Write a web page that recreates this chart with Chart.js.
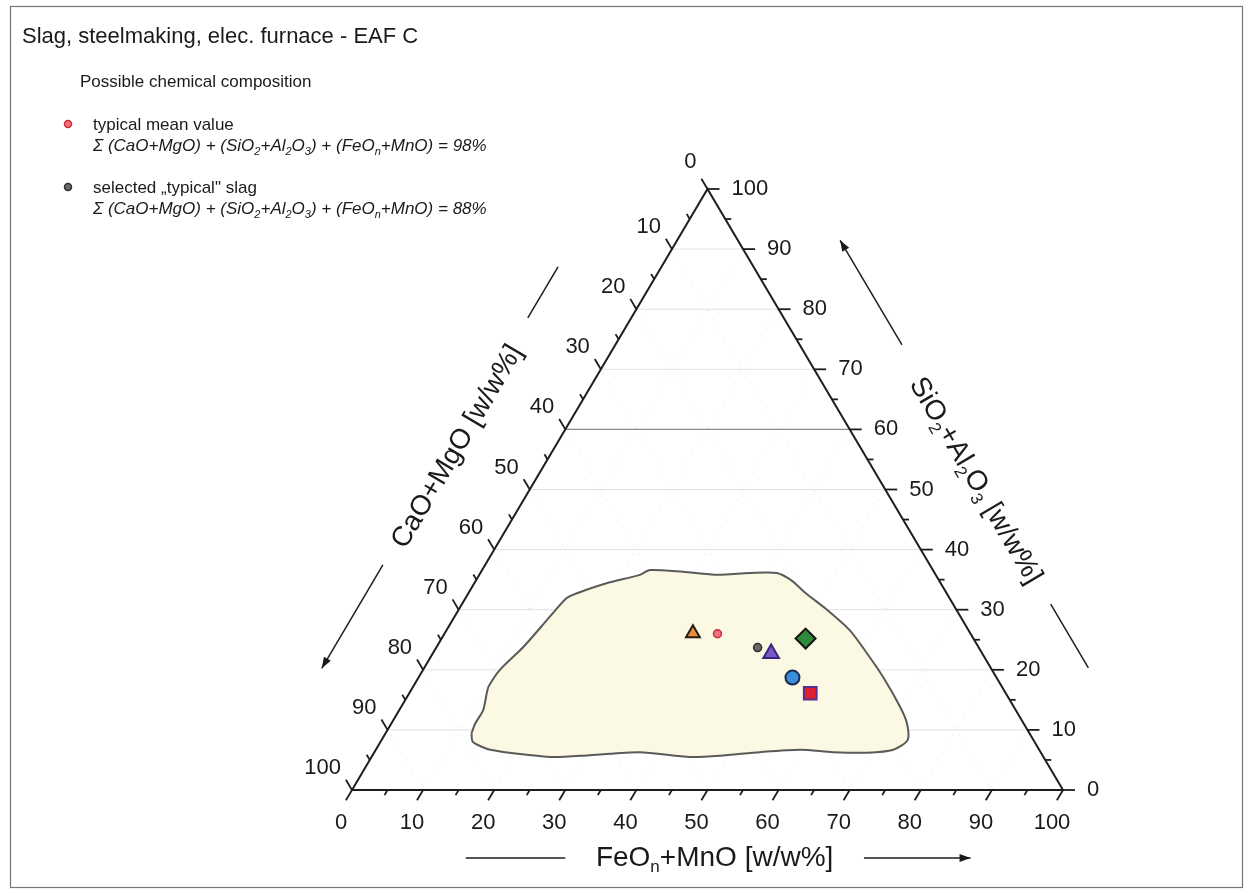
<!DOCTYPE html>
<html>
<head>
<meta charset="utf-8">
<script src="https://cdn.jsdelivr.net/npm/chart.js@4.4.1/dist/chart.umd.min.js"></script>
<style>
html, body { margin: 0; padding: 0; background: #fff; }
#wrap { width: 1249px; height: 893px; }
</style>
</head>
<body>
<div id="wrap"><canvas id="myChart" width="1249" height="893"></canvas></div>
<script>
// ternary values: FeOn+MnO and SiO2+Al2O3 (CaO+MgO is the rest to 100)
const regionFeO = [12.1, 11.8, 11.8, 10.9, 10.6, 10.8, 12.2, 13.4, 14.2, 15.2, 18.6, 22.6, 23.6, 28.4, 33.5, 37.9, 41.7, 44.5, 47.2, 51.8,
    56.7, 61.0, 65.3, 70.2, 72.5, 74.0, 72.8, 69.4, 64.5, 59.7, 54.2, 48.9, 44.8, 37.3, 30.6, 25.1, 16.1, 13.0];
const regionSiO2 = [9.4, 11.1, 13.3, 16.1, 17.2, 20.0, 23.8, 28.8, 31.9, 32.7, 34.4, 35.8, 36.6, 36.3, 35.8, 36.1, 36.1, 34.8, 32.9, 30.0,
    26.6, 22.8, 18.8, 13.8, 11.1, 8.3, 6.7, 6.2, 6.3, 6.7, 6.3, 5.7, 5.5, 6.3, 5.8, 5.5, 6.7, 8.0];

const markerNames = ["orange", "mean", "typical", "purple", "green", "blue", "square"];
const markerFeO = [34.9, 38.4, 45.2, 47.6, 51.2, 52.6, 56.4];
const markerSiO2 = [26.1, 26.0, 23.7, 22.7, 25.2, 18.7, 16.1];

const tickValues = [0, 10, 20, 30, 40, 50, 60, 70, 80, 90, 100];
const minorTicks = [5, 15, 25, 35, 45, 55, 65, 75, 85, 95];
const gridValues = [10, 20, 30, 40, 50, 60, 70, 80, 90];

const markerStyles = [
    {pointStyle: 'triangle', radius: 8, bg: '#e8913c', border: '#2a1a10', bw: 2},
    {pointStyle: 'circle', radius: 4, bg: '#f2707c', border: '#d0283c', bw: 1.5},
    {pointStyle: 'circle', radius: 4, bg: '#6a6a62', border: '#2e2e2e', bw: 1.5},
    {pointStyle: 'triangle', radius: 9, bg: '#7a5cc8', border: '#3a2380', bw: 2},
    {pointStyle: 'rectRot', radius: 10, bg: '#2f8a3c', border: '#141414', bw: 2},
    {pointStyle: 'circle', radius: 7, bg: '#3b8fd9', border: '#182a55', bw: 2},
    {pointStyle: 'rect', radius: 9, bg: '#e0202e', border: '#5b2d8c', bw: 2}
];

const FONT = '"Liberation Sans", Arial, sans-serif';

function toXY(feo, sio2) {
    return {x: feo + sio2 / 2, y: sio2};
}

function pix(chart, feo, sio2) {
    const p = toXY(feo, sio2);
    return {x: chart.scales.x.getPixelForValue(p.x), y: chart.scales.y.getPixelForValue(p.y)};
}

// draws text with subscript parts: [[text, isSub], ...]
function richWidth(ctx, parts, size, style) {
    let w = 0;
    for (const p of parts) {
        ctx.font = style + ' ' + (p[1] ? Math.round(size * 0.62) : size) + 'px ' + FONT;
        w += ctx.measureText(p[0]).width;
    }
    return w;
}
function drawRich(ctx, parts, x, y, size, style, align) {
    const w = richWidth(ctx, parts, size, style);
    let cx = x;
    if (align === 'center') cx = x - w / 2;
    if (align === 'right') cx = x - w;
    ctx.textAlign = 'left';
    ctx.textBaseline = 'middle';
    for (const p of parts) {
        const s = p[1] ? Math.round(size * 0.62) : size;
        ctx.font = style + ' ' + s + 'px ' + FONT;
        ctx.fillText(p[0], cx, p[1] ? y + size * 0.32 : y);
        cx += ctx.measureText(p[0]).width;
    }
}

function arrowLine(ctx, a, b, head) {
    ctx.beginPath();
    ctx.moveTo(a.x, a.y);
    ctx.lineTo(b.x, b.y);
    ctx.stroke();
    if (head) {
        const ang = Math.atan2(b.y - a.y, b.x - a.x);
        ctx.beginPath();
        ctx.moveTo(b.x, b.y);
        ctx.lineTo(b.x - 11 * Math.cos(ang) + 4 * Math.sin(ang), b.y - 11 * Math.sin(ang) - 4 * Math.cos(ang));
        ctx.lineTo(b.x - 11 * Math.cos(ang) - 4 * Math.sin(ang), b.y - 11 * Math.sin(ang) + 4 * Math.cos(ang));
        ctx.closePath();
        ctx.fill();
    }
}

const formula98 = [['Σ (CaO+MgO) + (SiO', 0], ['2', 1], ['+Al', 0], ['2', 1], ['O', 0], ['3', 1], [') + (FeO', 0], ['n', 1], ['+MnO) = 98%', 0]];
const formula88 = [['Σ (CaO+MgO) + (SiO', 0], ['2', 1], ['+Al', 0], ['2', 1], ['O', 0], ['3', 1], [') + (FeO', 0], ['n', 1], ['+MnO) = 88%', 0]];

const ternaryDecor = {
    id: 'ternaryDecor',
    beforeDatasetsDraw(chart) {
        const ctx = chart.ctx;
        ctx.save();
        // outer frame
        ctx.strokeStyle = '#777';
        ctx.lineWidth = 1.2;
        ctx.strokeRect(10.5, 6.5, 1232, 881);

        // faint grid
        for (const g of gridValues) {
            const a = pix(chart, 0, g), b = pix(chart, 100 - g, g);
            ctx.strokeStyle = g === 60 ? '#8a8a8a' : '#dedede';
            ctx.lineWidth = g === 60 ? 1.1 : 0.9;
            ctx.setLineDash([]);
            ctx.beginPath(); ctx.moveTo(a.x, a.y); ctx.lineTo(b.x, b.y); ctx.stroke();

            ctx.strokeStyle = 'rgba(0,0,0,0.10)';
            ctx.lineWidth = 1;
            ctx.setLineDash([1.5, 9]);
            let c = pix(chart, g, 0), d = pix(chart, g, 100 - g);
            ctx.beginPath(); ctx.moveTo(c.x, c.y); ctx.lineTo(d.x, d.y); ctx.stroke();
            c = pix(chart, 100 - g, 0); d = pix(chart, 0, 100 - g);
            ctx.beginPath(); ctx.moveTo(c.x, c.y); ctx.lineTo(d.x, d.y); ctx.stroke();
        }
        ctx.restore();
    },
    afterDatasetsDraw(chart) {
        const ctx = chart.ctx;
        ctx.save();
        const bl = pix(chart, 0, 0), br = pix(chart, 100, 0), top = pix(chart, 0, 100);
        const len = (v) => Math.hypot(v.x, v.y);
        const leftDir = {x: (top.x - bl.x) / len({x: top.x - bl.x, y: top.y - bl.y}), y: (top.y - bl.y) / len({x: top.x - bl.x, y: top.y - bl.y})};
        const rightDir = {x: (br.x - top.x) / len({x: br.x - top.x, y: br.y - top.y}), y: (br.y - top.y) / len({x: br.x - top.x, y: br.y - top.y})};

        ctx.strokeStyle = '#1e1e1e';
        ctx.fillStyle = '#1e1e1e';
        ctx.lineWidth = 1.8;
        ctx.setLineDash([]);

        const allTicks = tickValues.map(v => [v, 12]).concat(minorTicks.map(v => [v, 6]));
        for (const [v, l] of allTicks) {
            // bottom axis FeO, ticks down-left
            let p = pix(chart, v, 0);
            ctx.beginPath(); ctx.moveTo(p.x, p.y); ctx.lineTo(p.x - leftDir.x * l, p.y - leftDir.y * l); ctx.stroke();
            // left axis CaO, ticks up-left
            p = pix(chart, 0, 100 - v);
            ctx.beginPath(); ctx.moveTo(p.x, p.y); ctx.lineTo(p.x - rightDir.x * l, p.y - rightDir.y * l); ctx.stroke();
            // right axis SiO2, ticks to the right
            p = pix(chart, 100 - v, v);
            ctx.beginPath(); ctx.moveTo(p.x, p.y); ctx.lineTo(p.x + l, p.y); ctx.stroke();
        }

        ctx.fillStyle = '#1a1a1a';
        ctx.font = '22px ' + FONT;
        ctx.textBaseline = 'middle';
        for (const v of tickValues) {
            let p = pix(chart, v, 0);
            ctx.textAlign = 'center';
            ctx.fillText(String(v), p.x - 11, p.y + 33);
            p = pix(chart, 0, 100 - v);
            ctx.textAlign = 'right';
            ctx.fillText(String(v), p.x - 11, p.y - (v === 0 ? 27 : 22));
            p = pix(chart, 100 - v, v);
            ctx.textAlign = 'left';
            ctx.fillText(String(v), p.x + 24, p.y);
        }

        // axis titles
        ctx.lineWidth = 1.5;
        const nL = {x: -Math.abs(leftDir.y), y: -Math.abs(leftDir.x)};  // outward normal, left edge
        const nR = {x: Math.abs(rightDir.y), y: -Math.abs(rightDir.x)}; // outward normal, right edge
        const eL = (t, d) => ({x: bl.x + (top.x - bl.x) * t + nL.x * d, y: bl.y + (top.y - bl.y) * t + nL.y * d});
        const eR = (t, d) => ({x: top.x + (br.x - top.x) * t + nR.x * d, y: top.y + (br.y - top.y) * t + nR.y * d});

        let c = eL(0.5, 84);
        ctx.save();
        ctx.translate(c.x, c.y);
        ctx.rotate(Math.atan2(leftDir.y, leftDir.x));
        drawRich(ctx, [['CaO+MgO [w/w%]', 0]], 0, 0, 28, 'normal', 'center');
        ctx.restore();
        arrowLine(ctx, eL(0.30, 88), eL(0.128, 88), true);
        arrowLine(ctx, eL(0.71, 89), eL(0.795, 89), false);

        c = eR(0.555, 82);
        ctx.save();
        ctx.translate(c.x, c.y);
        ctx.rotate(Math.atan2(rightDir.y, rightDir.x));
        drawRich(ctx, [['SiO', 0], ['2', 1], ['+Al', 0], ['2', 1], ['O', 0], ['3', 1], [' [w/w%]', 0]], 0, 0, 28, 'normal', 'center');
        ctx.restore();
        arrowLine(ctx, eR(0.334, 88), eR(0.16, 88), true);
        arrowLine(ctx, eR(0.762, 84), eR(0.868, 84), false);

        const yb = bl.y + 68;
        const xb = chart.scales.x.getPixelForValue(51);
        drawRich(ctx, [['FeO', 0], ['n', 1], ['+MnO [w/w%]', 0]], xb, yb, 28, 'normal', 'center');
        arrowLine(ctx, {x: chart.scales.x.getPixelForValue(16), y: yb}, {x: chart.scales.x.getPixelForValue(30), y: yb}, false);
        arrowLine(ctx, {x: chart.scales.x.getPixelForValue(72), y: yb}, {x: chart.scales.x.getPixelForValue(87), y: yb}, true);

        // title and legend
        ctx.fillStyle = '#1a1a1a';
        drawRich(ctx, [['Slag, steelmaking, elec. furnace - EAF C', 0]], 22, 37, 22, 'normal', 'left');
        drawRich(ctx, [['Possible chemical composition', 0]], 80, 82, 17, 'normal', 'left');
        const st1 = markerStyles[1], st2 = markerStyles[2];
        ctx.fillStyle = st1.bg; ctx.strokeStyle = st1.border; ctx.lineWidth = st1.bw;
        Chart.helpers.drawPoint(ctx, {pointStyle: 'circle', radius: 3.5, rotation: 0, borderWidth: st1.bw}, 68, 124);
        ctx.fillStyle = st2.bg; ctx.strokeStyle = st2.border; ctx.lineWidth = st2.bw;
        Chart.helpers.drawPoint(ctx, {pointStyle: 'circle', radius: 3.5, rotation: 0, borderWidth: st2.bw}, 68, 187);
        ctx.fillStyle = '#1a1a1a';
        drawRich(ctx, [['typical mean value', 0]], 93, 125, 17, 'normal', 'left');
        drawRich(ctx, formula98, 93, 146, 17, 'italic', 'left');
        drawRich(ctx, [['selected \u201Etypical" slag', 0]], 93, 188, 17, 'normal', 'left');
        drawRich(ctx, formula88, 93, 209, 17, 'italic', 'left');
        ctx.restore();
    }
};

const datasets = [];
datasets.push({
    label: 'triangle',
    data: [toXY(0, 0), toXY(100, 0), toXY(0, 100), toXY(0, 0)],
    showLine: true,
    borderColor: '#1e1e1e',
    borderWidth: 2,
    pointRadius: 0,
    fill: false,
    clip: false,
    order: 5
});
const regionPts = regionFeO.map((f, i) => toXY(f, regionSiO2[i]));
regionPts.push(regionPts[0]);
datasets.push({
    label: 'possible composition',
    data: regionPts,
    showLine: true,
    borderColor: '#5a5a58',
    borderWidth: 2,
    backgroundColor: '#fbf8e4',
    fill: 'shape',
    tension: 0.25,
    pointRadius: 0,
    clip: false,
    order: 10
});
let counter = 0;
for (const name of markerNames) {
    const st = markerStyles[counter];
    datasets.push({
        label: name,
        data: [toXY(markerFeO[counter], markerSiO2[counter])],
        pointStyle: st.pointStyle,
        pointRadius: st.radius,
        backgroundColor: st.bg,
        borderColor: st.border,
        pointBorderWidth: st.bw,
        clip: false,
        order: 0
    });
    counter++;
}

const ctx = document.getElementById('myChart');
new Chart(ctx, {
    type: 'scatter',
    data: {datasets: datasets},
    options: {
        responsive: false,
        animation: false,
        events: [],
        layout: {padding: {left: 352, right: 186, top: 189, bottom: 103}},
        scales: {
            x: {type: 'linear', min: 0, max: 100, display: false},
            y: {type: 'linear', min: 0, max: 100, display: false}
        },
        plugins: {
            legend: {display: false},
            tooltip: {enabled: false}
        }
    },
    plugins: [ternaryDecor]
});
</script>
</body>
</html>
